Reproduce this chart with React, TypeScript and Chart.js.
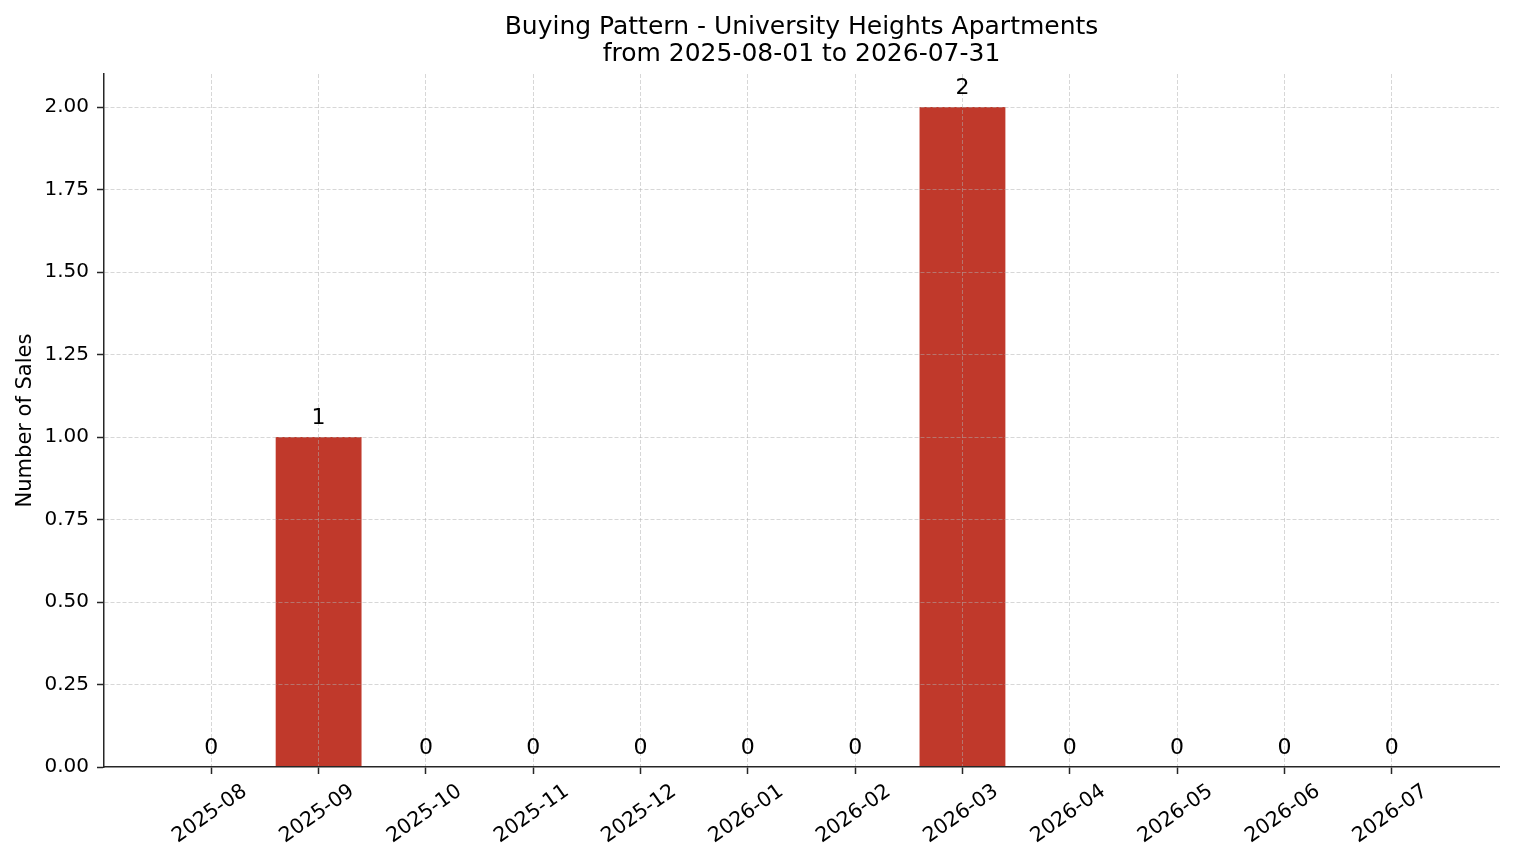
import { useEffect, useRef } from "react";
import { Chart, registerables } from "chart.js";
import type { Plugin } from "chart.js";

Chart.register(...registerables);

const FONT = "'DejaVu Sans', sans-serif";

const months = [
  "2025-08", "2025-09", "2025-10", "2025-11", "2025-12", "2026-01",
  "2026-02", "2026-03", "2026-04", "2026-05", "2026-06", "2026-07",
];
const sales = [0, 1, 0, 0, 0, 0, 0, 2, 0, 0, 0, 0];
const titleLines = ["Buying Pattern - University Heights Apartments", "from 2025-08-01 to 2026-07-31"];
const yLabel = "Number of Sales";

const GRID = "rgba(176,176,176,0.5)";
const AXIS = "#262626";

// title, y label, rotated month labels and the count above each bar
const textPlugin: Plugin<"bar"> = {
  id: "texts",
  afterDraw(chart) {
    const { ctx, chartArea } = chart;
    const x = chart.scales.x;
    ctx.save();
    ctx.fillStyle = "#000";

    ctx.font = `25px ${FONT}`;
    ctx.textAlign = "center";
    ctx.textBaseline = "alphabetic";
    const cx = (chartArea.left + chartArea.right) / 2;
    ctx.fillText(titleLines[0], cx, 34);
    ctx.fillText(titleLines[1], cx, 61);

    ctx.save();
    ctx.font = `21px ${FONT}`;
    ctx.translate(31, (chartArea.top + chartArea.bottom) / 2);
    ctx.rotate(-Math.PI / 2);
    ctx.fillText(yLabel, 0, 0);
    ctx.restore();

    ctx.font = `20.5px ${FONT}`;
    ctx.textBaseline = "middle";
    months.forEach((m, i) => {
      ctx.save();
      ctx.translate(x.getPixelForValue(i) - 1.5, chartArea.bottom + 47);
      ctx.rotate((-35 * Math.PI) / 180);
      ctx.fillText(m, 0, 0);
      ctx.restore();
    });

    ctx.font = `22px ${FONT}`;
    ctx.textBaseline = "alphabetic";
    chart.getDatasetMeta(0).data.forEach((bar, i) => {
      ctx.fillText(String(sales[i]), bar.x, bar.y - 13);
    });
    ctx.restore();
  },
};

export default function App() {
  const canvasRef = useRef<HTMLCanvasElement>(null);

  useEffect(() => {
    document.body.style.margin = "0";
    const canvas = canvasRef.current;
    if (!canvas) return;

    const inRange = (c: any) => {
      const v = c.tick?.value;
      return v !== undefined && v >= 0 && v < months.length;
    };
    const aboveZero = (c: any) => (c.tick?.value ?? 0) > 0;

    const chart = new Chart(canvas, {
      type: "bar",
      data: {
        datasets: [
          {
            label: "Sales",
            data: sales.map((v, i) => ({ x: i, y: v })),
            backgroundColor: "#c0392b",
            borderWidth: 0,
            barPercentage: 0.8,
            categoryPercentage: 1,
          },
        ],
      },
      options: {
        animation: false,
        responsive: false,
        devicePixelRatio: 1,
        layout: { padding: { top: 74, right: 15, left: 0, bottom: 0 } },
        plugins: { legend: { display: false }, tooltip: { enabled: false } },
        scales: {
          x: {
            type: "linear",
            min: -1,
            max: 12,
            offset: false,
            afterFit: (s) => {
              s.height = 96;
            },
            ticks: { stepSize: 1, display: false },
            grid: {
              z: 1,
              offset: false,
              color: (c) => (inRange(c) ? GRID : "transparent"),
              tickColor: (c) => (inRange(c) ? AXIS : "transparent"),
              tickLength: 7,
              tickWidth: 1.5,
              lineWidth: 1,
            },
            border: { color: AXIS, width: 1.5, dash: [4, 2], z: 1 },
          },
          y: {
            min: 0,
            max: 2.1,
            afterFit: (s) => {
              s.width = 104;
            },
            ticks: {
              stepSize: 0.25,
              includeBounds: false,
              padding: 8,
              color: "#000",
              font: { size: 20, family: FONT },
              callback: (v) => Number(v).toFixed(2),
            },
            grid: {
              z: 1,
              color: (c) => (aboveZero(c) ? GRID : "transparent"),
              tickColor: AXIS,
              tickLength: 7,
              tickWidth: 1.5,
              lineWidth: 1,
            },
            border: { color: AXIS, width: 1.5, dash: [4, 2], z: 1 },
          },
        },
      },
      plugins: [textPlugin],
    });

    return () => chart.destroy();
  }, []);

  return <canvas ref={canvasRef} width={1514} height={863} style={{ display: "block" }} />;
}
